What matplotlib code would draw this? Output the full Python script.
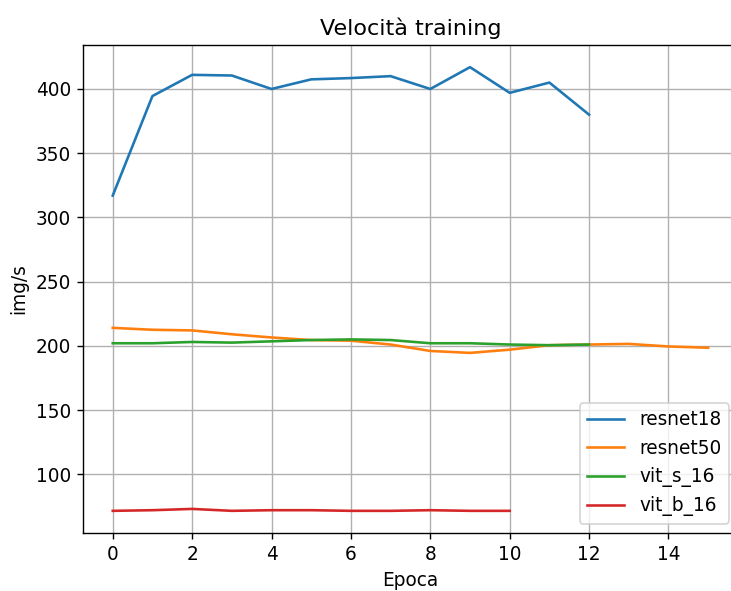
import matplotlib
matplotlib.use("Agg")
import matplotlib.pyplot as plt

# throughput (img/s) per epoch for each model
resnet18 = [317, 394.5, 411, 410.5, 400, 407.5, 408.5, 410, 400, 417, 397, 405, 380]
resnet50 = [214, 212.5, 212, 209, 206.5, 204.5, 204, 201, 196, 194.5, 197, 200.5, 201, 201.5, 199.5, 198.5]
vit_s_16 = [202, 202, 203, 202.5, 203.5, 204.5, 205, 204.5, 202, 202, 201, 200.5, 201]
vit_b_16 = [71.5, 72, 73, 71.5, 72, 72, 71.5, 71.5, 72, 71.5, 71.5]

series = {
    "resnet18": resnet18,
    "resnet50": resnet50,
    "vit_s_16": vit_s_16,
    "vit_b_16": vit_b_16,
}

plt.rcParams["font.size"] = 10.7

fig = plt.figure(figsize=(731 / 125, 591 / 125), dpi=125)
ax = fig.add_axes([0.1135, 0.0981, 0.896, 0.8258])

for name, vals in series.items():
    ax.plot(range(len(vals)), vals, label=name)

ax.set_title("Velocità training")
ax.set_xlabel("Epoca")
ax.set_ylabel("img/s")
ax.grid(True)
ax.legend(loc="lower right")

fig.savefig("out.png", dpi=125)
